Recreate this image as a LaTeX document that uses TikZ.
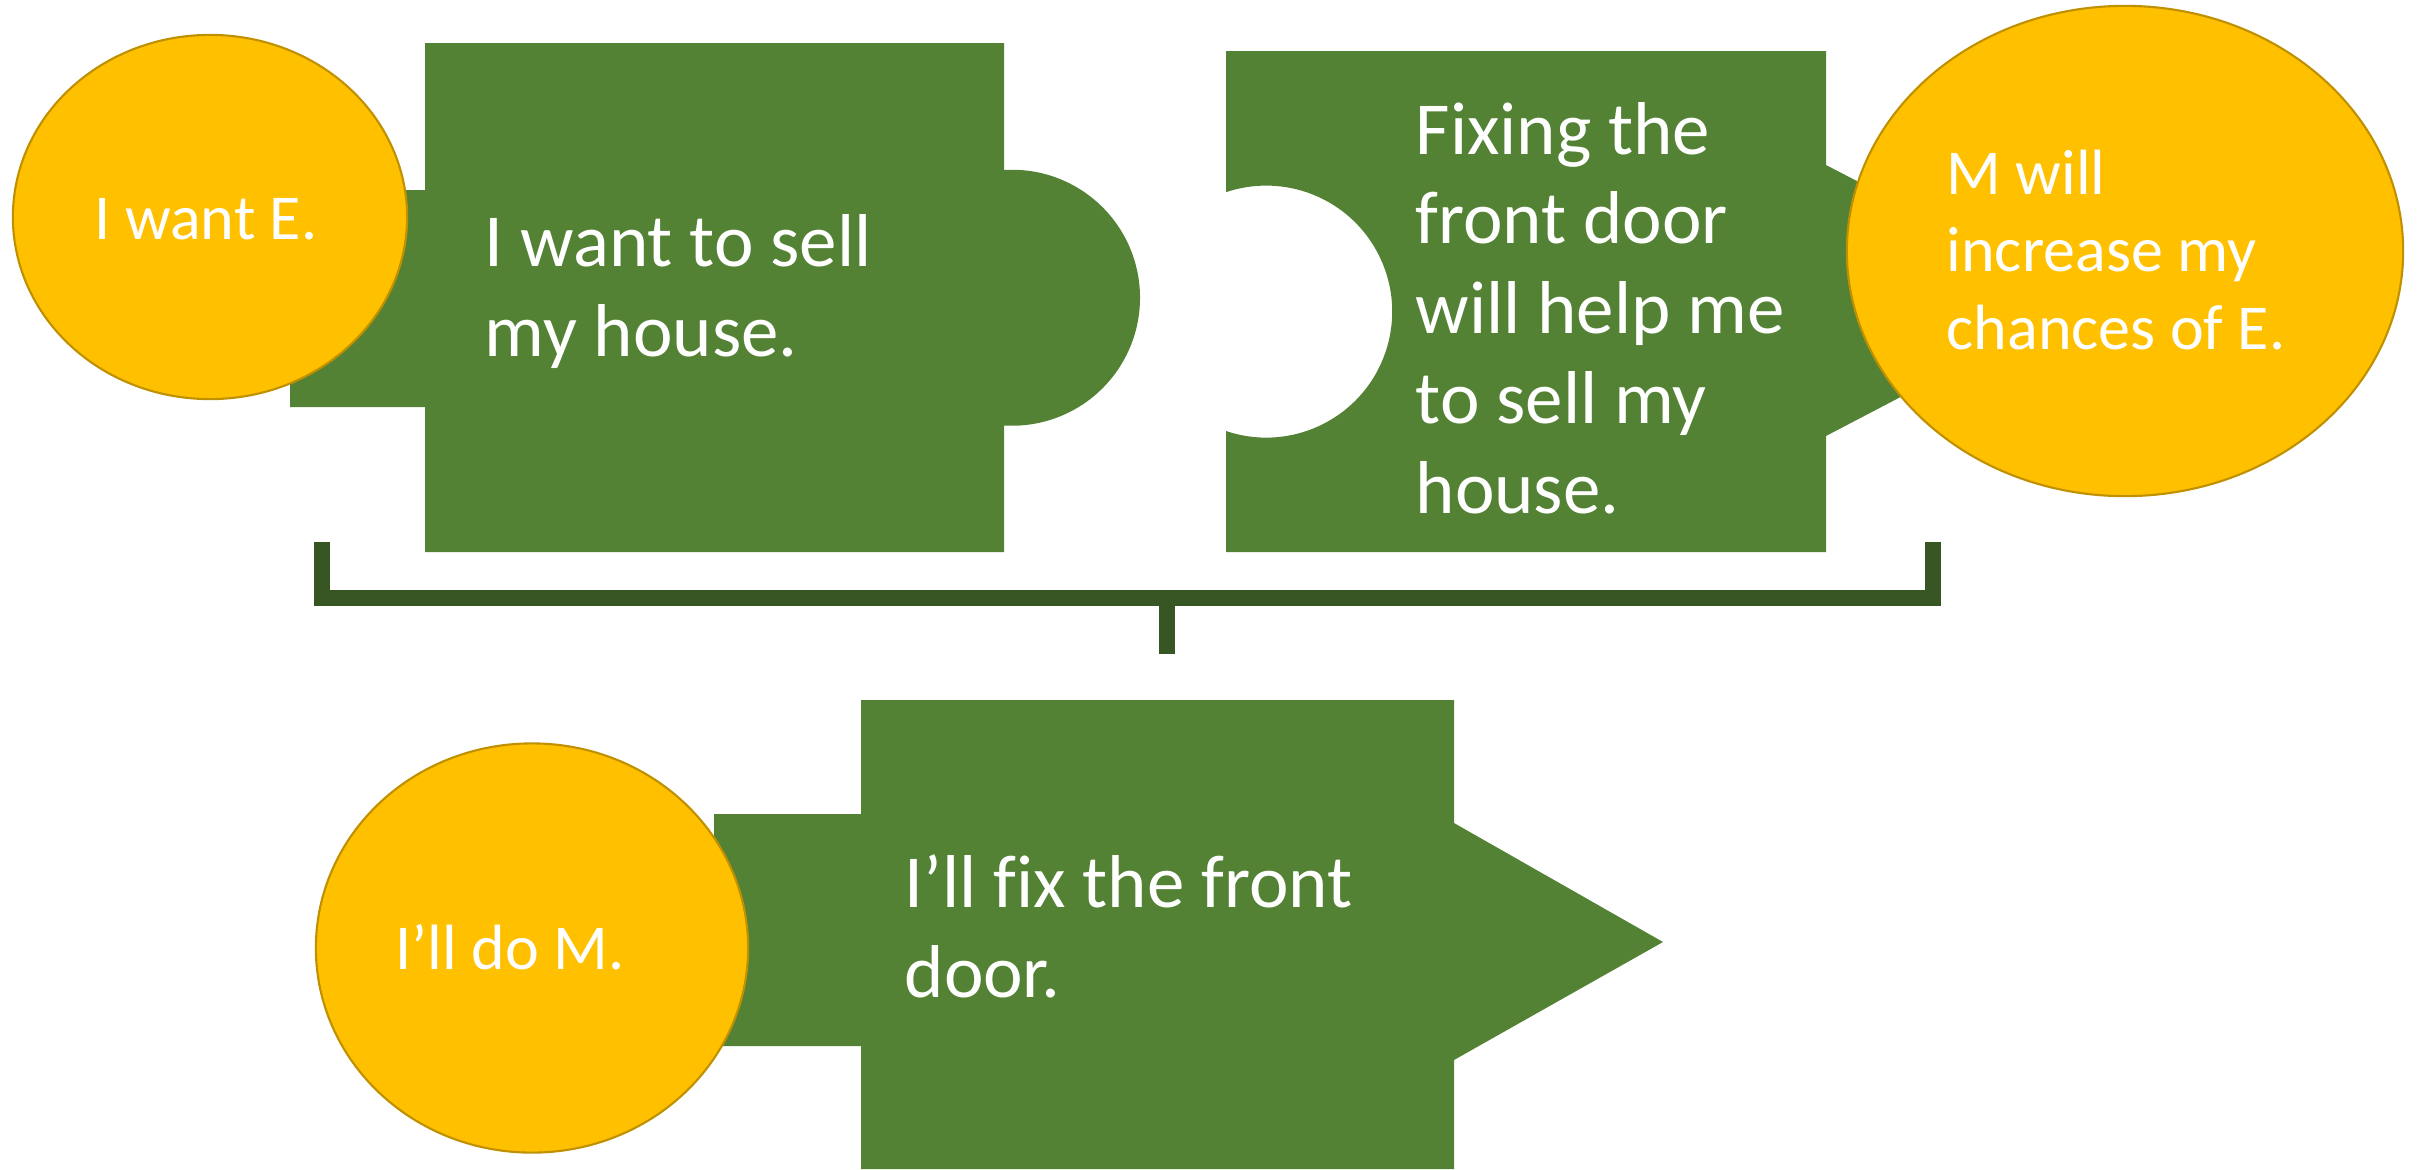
\documentclass[tikz,border=0pt]{standalone}
\usepackage{fontspec}
\setmainfont{Carlito}[Ligatures=NoCommon]
\usetikzlibrary{shapes.geometric}

\definecolor{piecegreen}{HTML}{548235}
\definecolor{goalyellow}{HTML}{FFC000}
\definecolor{goldedge}{HTML}{BF9000}
\definecolor{bracketgreen}{HTML}{375623}

\begin{document}
\begin{tikzpicture}[
      x=0.01cm, y=0.01cm,
      piece/.style={fill=piecegreen, draw=none},
      goal/.style={ellipse, fill=goalyellow, draw=goldedge, line width=0.6pt, inner sep=0pt},
      bigtext/.style={text=white, align=left, inner sep=0pt, font=\fontsize{21.3}{25.5}\selectfont},
      smalltext/.style={text=white, align=left, inner sep=0pt, font=\fontsize{18.2}{21.9}\selectfont}]

      \useasboundingbox (0,0) rectangle (2417,-1169);

      % top left piece with knob
      \fill[piece] (425,-43) -- (1004,-43) -- (1004,-170)
        arc[start angle=93.6, end angle=-93.6, radius=128]
        -- (1004,-552) -- (425,-552) -- (425,-407) -- (290,-407)
        -- (290,-190) -- (425,-190) -- cycle;
      \node[goal, minimum width=3.94cm, minimum height=3.64cm] (want) at (210,-217) {};
      \node[smalltext, anchor=base] (wantE) at (206,-239) {I want E.};
      \node[bigtext, anchor=base west] (sell) at (484,-356) {I want to sell\\my house.};

      % top right piece with hole
      \fill[piece] (1226,-51) -- (1826,-51) -- (1826,-165) -- (2086,-300)
        -- (1826,-436) -- (1826,-552) -- (1226,-552) -- (1226,-431)
        arc[start angle=-108.6, end angle=108.6, radius=126] -- cycle;
      \node[bigtext, anchor=base west] (fix) at (1415,-513)
        {Fixing the\\front door\\will help me\\to sell my\\house.};
      \node[goal, minimum width=5.56cm, minimum height=4.90cm] (means) at (2125,-251) {};
      \node[smalltext, anchor=base west] (meansM) at (1946,-349)
        {M will\\increase my\\chances of E.};

      % bracket
      \coordinate (bl) at (322,-542);
      \coordinate (br) at (1933,-542);
      \coordinate (bm) at (1167,-654);
      \draw[bracketgreen, line width=4.6pt] (bl) -- (bl |- 0,-598) -- (br |- 0,-598) -- (br);
      \draw[bracketgreen, line width=4.6pt] (bm |- 0,-598) -- (bm);

      % bottom piece
      \fill[piece] (861,-700) -- (1454,-700) -- (1454,-823) -- (1663,-942)
        -- (1454,-1060) -- (1454,-1169) -- (861,-1169) -- (861,-1046)
        -- (714,-1046) -- (714,-814) -- (861,-814) -- cycle;
      \node[goal, minimum width=4.32cm, minimum height=4.09cm] (doM) at (532,-948) {};
      \node[smalltext, anchor=base] (doMt) at (510,-969) {I’ll do M.};
      \node[bigtext, anchor=base west] (door) at (904,-997) {I’ll fix the front\\door.};
    \end{tikzpicture}
\end{document}
